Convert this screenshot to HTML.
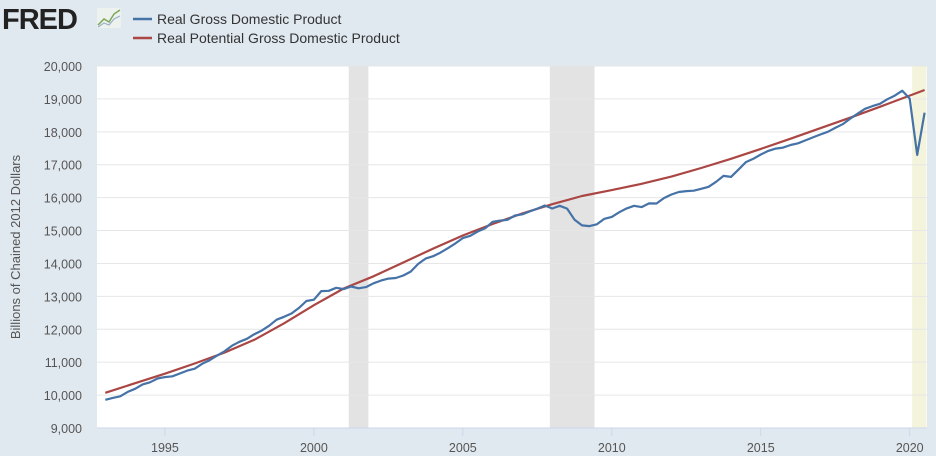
<!DOCTYPE html>
<html><head><meta charset="utf-8"><style>
body{margin:0;background:#e1e9f0;font-family:"Liberation Sans",sans-serif;}
#wrap{position:relative;width:936px;height:456px;overflow:hidden;background:#e1e9f0;}
</style></head><body>
<div id="wrap">
<svg id="chart" width="936" height="456" xmlns="http://www.w3.org/2000/svg">
  <g>
    <text x="2" y="29" font-size="29" font-weight="bold" fill="#222" font-family="Liberation Sans, sans-serif" letter-spacing="-1">FRED</text>
    <rect x="97" y="8" width="24" height="20" fill="#eef2ee" rx="2"/>
    <polyline points="98,25 104,19 109,22 114,14 120,10" fill="none" stroke="#7aa85a" stroke-width="1.5"/>
    <polyline points="98,27 104,23 109,25 114,19 120,16" fill="none" stroke="#9ab0c8" stroke-width="1.2"/>
  </g>
  <g>
    <g>
      <line x1="133" y1="19" x2="152" y2="19" stroke="#4572a7" stroke-width="2.5"/>
      <text x="157" y="24" font-size="14" fill="#333">Real Gross Domestic Product</text>
    </g>
    <g>
      <line x1="133" y1="38" x2="152" y2="38" stroke="#aa4643" stroke-width="2.5"/>
      <text x="157" y="43" font-size="14" fill="#333">Real Potential Gross Domestic Product</text>
    </g>
  </g>
  <rect x="97" y="66" width="830" height="362" fill="#ffffff"/>
  <g id="rec"></g>
  <g id="grid"></g>
  <g id="series"></g>
  <g id="axes"></g>
  <text transform="translate(20,247) rotate(-90)" text-anchor="middle" font-size="13" fill="#555">Billions of Chained 2012 Dollars</text>
</svg>
</div>
<script>
const gdpStart = 1993;
const gdpValues = [
 9857,9914,9962,10098, 10191,10324,10389,10504, 10547,10570,10657,10745,
 10802,10950,11060,11200, 11330,11500,11620,11710, 11850,11960,12110,12290,
 12380,12480,12650,12860, 12900,13160,13170,13260, 13220,13300,13244,13281,
 13397,13478,13539,13559, 13634,13751,13985,14146, 14221,14330,14465,14610,
 14771,14839,14972,15067, 15267,15302,15326,15456, 15493,15582,15667,15762,
 15671,15752,15667,15328, 15156,15134,15190,15356, 15416,15557,15672,15751,
 15713,15826,15821,15985, 16095,16171,16199,16210, 16270,16330,16480,16660,
 16630,16850,17080,17180, 17310,17420,17490,17520, 17600,17650,17740,17830,
 17920,18000,18120,18230, 18400,18550,18700,18780, 18850,18990,19100,19250,
 19010,17300,18580];
const potYears = [1993,1994,1995,1996,1997,1998,1999,2000,2001,2002,2003,2004,2005,2006,2007,2008,2009,2010,2011,2012,2013,2014,2015,2016,2017,2018,2019,2020,2020.5];
const potValues = [10070,10360,10650,10960,11290,11680,12180,12730,13240,13610,14030,14450,14850,15200,15520,15800,16050,16230,16420,16640,16900,17180,17480,17790,18110,18430,18760,19100,19270];
const recStarts = [2001.17, 2007.92, 2020.08];
const recEnds = [2001.83, 2009.42, 2020.56];
const yTicks = [9000,10000,11000,12000,13000,14000,15000,16000,17000,18000,19000,20000];
const xTicks = [1995,2000,2005,2010,2015,2020];

const X0=97,X1=927,Y0=428,Y1=66;
const xMin=1992.72,xMax=2020.58,yMin=9000,yMax=20000;
const xs=v=>X0+(v-xMin)/(xMax-xMin)*(X1-X0);
const ys=v=>Y0-(v-yMin)/(yMax-yMin)*(Y0-Y1);
const NS="http://www.w3.org/2000/svg";
function mk(t,a,p){const e=document.createElementNS(NS,t);for(const k in a)e.setAttribute(k,a[k]);p.appendChild(e);return e;}
const rec=document.getElementById('rec'),grid=document.getElementById('grid'),ser=document.getElementById('series'),axes=document.getElementById('axes');
recStarts.forEach((s,i)=>{
  const last=i===recStarts.length-1;
  const r=mk('rect',{x:xs(s),y:Y1,width:Math.min(xs(recEnds[i]),X1)-xs(s),height:Y0-Y1,fill:last?'#f4f4dc':'#e3e3e3'},rec);
  
  
});
yTicks.forEach(v=>{
  if(v>yMin){const l=mk('line',{x1:X0,x2:X1,y1:ys(v),y2:ys(v),stroke:'#e6e6e6','stroke-width':1},grid);
  
  }
  const t=mk('text',{x:82,y:ys(v)+5,'text-anchor':'end','font-size':12.5,fill:'#555'},axes);
  t.textContent=v.toLocaleString('en-US');
  
  
});
xTicks.forEach(v=>{
  const l=mk('line',{x1:xs(v),x2:xs(v),y1:Y0,y2:Y0+8,stroke:'#ccd6eb'},axes);
  
  
  const t=mk('text',{x:xs(v),y:Y0+24,'text-anchor':'middle','font-size':12.5,fill:'#555'},axes);
  t.textContent=v;
  
  
});
const ax=mk('line',{x1:X0,x2:X1,y1:Y0,y2:Y0,stroke:'#ccd6eb'},axes);


const potPts=potYears.map((y,i)=>xs(y).toFixed(1)+','+ys(potValues[i]).toFixed(1)).join(' ');
const pl=mk('polyline',{points:potPts,fill:'none',stroke:'#aa4643','stroke-width':2.2,'stroke-linejoin':'round'},ser);


const gdpPts=gdpValues.map((v,i)=>xs(gdpStart+i/4).toFixed(1)+','+ys(v).toFixed(1)).join(' ');
const gl=mk('polyline',{points:gdpPts,fill:'none',stroke:'#4572a7','stroke-width':2.2,'stroke-linejoin':'round'},ser);


</script>
</body></html>
